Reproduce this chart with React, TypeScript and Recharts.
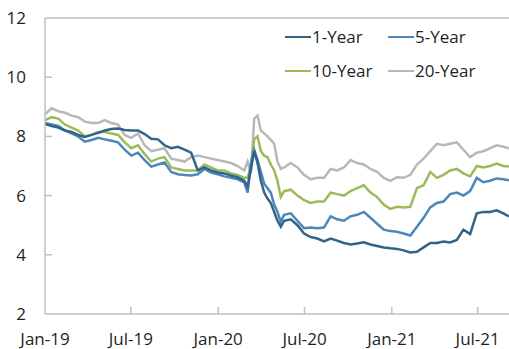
import React from 'react';
import { LineChart, Line, XAxis, YAxis, ReferenceLine, Legend } from 'recharts';

const dates = [
  '2019-01-01','2019-01-15','2019-01-29','2019-02-12','2019-02-26','2019-03-12','2019-03-26','2019-04-09','2019-04-23','2019-05-07',
  '2019-05-21','2019-06-04','2019-06-18','2019-07-02','2019-07-16','2019-07-30','2019-08-13','2019-08-27','2019-09-10','2019-09-24',
  '2019-10-08','2019-10-22','2019-11-05','2019-11-19','2019-12-03','2019-12-17','2019-12-31','2020-01-14','2020-01-28','2020-02-11',
  '2020-02-25','2020-03-03','2020-03-10','2020-03-17','2020-03-24','2020-03-31','2020-04-07','2020-04-14','2020-04-21','2020-04-28',
  '2020-05-05','2020-05-12','2020-05-19','2020-06-02','2020-06-16','2020-06-30','2020-07-14','2020-07-28','2020-08-11','2020-08-25',
  '2020-09-08','2020-09-22','2020-10-06','2020-10-20','2020-11-03','2020-11-17','2020-12-01','2020-12-15','2020-12-29','2021-01-12',
  '2021-01-26','2021-02-09','2021-02-23','2021-03-09','2021-03-23','2021-04-06','2021-04-20','2021-05-04','2021-05-18','2021-06-01',
  '2021-06-15','2021-06-29','2021-07-13','2021-07-27','2021-08-10','2021-08-24','2021-09-05',
];

const oneYear = [
  8.42,8.35,8.3,8.2,8.15,8.05,7.98,8.05,8.12,8.2,
  8.25,8.27,8.22,8.2,8.2,8.08,7.92,7.9,7.7,7.6,
  7.65,7.55,7.45,6.85,6.95,6.85,6.78,6.75,6.68,6.62,
  6.5,6.3,6.9,7.5,7.1,6.5,6.1,5.9,5.75,5.45,
  5.15,4.95,5.15,5.2,5.0,4.72,4.6,4.55,4.45,4.55,
  4.48,4.4,4.35,4.38,4.42,4.35,4.3,4.25,4.22,4.2,
  4.15,4.08,4.1,4.25,4.4,4.4,4.45,4.42,4.5,4.85,
  4.7,5.4,5.45,5.45,5.5,5.4,5.3,
];

const fiveYear = [
  8.45,8.4,8.35,8.2,8.1,8.0,7.82,7.88,7.95,7.9,
  7.85,7.8,7.55,7.35,7.45,7.2,6.98,7.05,7.12,6.8,
  6.72,6.7,6.68,6.72,6.9,6.78,6.72,6.65,6.6,6.55,
  6.45,6.1,7.1,7.55,7.2,6.8,6.4,6.25,6.1,5.7,
  5.45,5.12,5.35,5.4,5.15,4.9,4.92,4.9,4.92,5.3,
  5.2,5.15,5.3,5.35,5.45,5.25,5.05,4.85,4.8,4.78,
  4.72,4.65,4.95,5.25,5.6,5.75,5.8,6.05,6.1,6.0,
  6.15,6.6,6.45,6.5,6.58,6.55,6.52,
];

const tenYear = [
  8.55,8.65,8.6,8.4,8.3,8.2,8.0,8.05,8.15,8.15,
  8.1,8.05,7.8,7.6,7.7,7.4,7.15,7.25,7.3,6.95,
  6.9,6.85,6.85,6.85,7.05,6.95,6.85,6.85,6.75,6.7,
  6.6,6.6,7.0,7.9,8.0,7.5,7.35,7.3,7.05,6.85,
  6.5,5.95,6.15,6.2,6.0,5.85,5.75,5.8,5.8,6.1,
  6.05,6.0,6.15,6.25,6.35,6.1,5.95,5.7,5.55,5.62,
  5.6,5.62,6.25,6.35,6.8,6.6,6.7,6.85,6.9,6.75,
  6.65,7.0,6.95,7.0,7.08,7.0,6.98,
];

const twentyYear = [
  8.75,8.95,8.85,8.8,8.7,8.65,8.5,8.45,8.45,8.55,
  8.45,8.4,8.05,7.95,8.1,7.7,7.5,7.55,7.6,7.25,
  7.2,7.15,7.3,7.35,7.3,7.25,7.2,7.15,7.1,7.0,
  6.85,7.15,6.75,8.6,8.7,8.2,8.1,8.0,7.88,7.75,
  7.15,6.9,6.95,7.1,6.95,6.7,6.55,6.6,6.6,6.9,
  6.85,6.95,7.2,7.1,7.05,6.9,6.8,6.6,6.5,6.62,
  6.6,6.7,7.05,7.25,7.5,7.75,7.7,7.75,7.8,7.55,
  7.3,7.45,7.5,7.6,7.7,7.65,7.6,
];

const xTickDates = ['2019-01-01', '2019-07-01', '2020-01-01', '2020-07-01', '2021-01-01', '2021-07-01'];
const xTickLabels = ['Jan-19', 'Jul-19', 'Jan-20', 'Jul-20', 'Jan-21', 'Jul-21'];
const yTicks = [2, 4, 6, 8, 10, 12];

const seriesNames = ['1-Year', '5-Year', '10-Year', '20-Year'];
const seriesKeys = ['y1', 'y5', 'y10', 'y20'];
const seriesColors = ['#326487', '#4b87bb', '#9bbb59', '#b8b8b8'];

const toTime = (d: string) => Date.parse(d + 'T00:00:00Z');

const data = dates.map((d, i) => ({
  t: toTime(d),
  y1: oneYear[i],
  y5: fiveYear[i],
  y10: tenYear[i],
  y20: twentyYear[i],
}));

const xTicks = xTickDates.map(toTime);
const labelFor: Record<number, string> = {};
xTicks.forEach((t, i) => { labelFor[t] = xTickLabels[i]; });

const FONT = '"Open Sans", "DejaVu Sans", sans-serif';
const AXIS = '#bfbfbf';

const YTick = (props: any) => {
  const { x, y, payload } = props;
  return (
    <g>
      {payload.value !== 2 && payload.value !== 12 ? (
        <line x1={x} x2={x + 7} y1={y} y2={y} stroke={AXIS} strokeWidth={1.5} />
      ) : null}
      <text x={26} y={y} dy={6} textAnchor="end" fontSize={17} fill="#1f1f1f" fontFamily={FONT}>
        {payload.value}
      </text>
    </g>
  );
};

const XTick = (props: any) => {
  const { x, y, payload } = props;
  const isFirst = payload.value === xTicks[0];
  return (
    <g>
      {!isFirst ? (
        <line x1={x} x2={x} y1={y} y2={y - 7} stroke={AXIS} strokeWidth={1.5} />
      ) : null}
      <text x={x} y={y + 31} textAnchor="middle" fontSize={17} fill="#1f1f1f" fontFamily={FONT}>
        {labelFor[payload.value]}
      </text>
    </g>
  );
};

const LegendContent = () => {
  return (
    <div style={{ position: 'relative', width: 220, height: 70, fontFamily: FONT, fontSize: 17, color: '#1f1f1f' }}>
      {seriesNames.map((name, i) => {
        const col = i % 2;
        const row = Math.floor(i / 2);
        return (
          <div
            key={name}
            style={{ position: 'absolute', left: col * 103, top: row * 34, display: 'flex', alignItems: 'center', whiteSpace: 'nowrap', lineHeight: '24px' }}
          >
            <span style={{ display: 'inline-block', width: 26, height: 2.5, background: seriesColors[i], marginRight: 1 }} />
            <span>{name}</span>
          </div>
        );
      })}
    </div>
  );
};

export default function App() {
  return (
    <div style={{ position: 'absolute', left: 0, top: 0, width: 509, height: 349, background: '#fff' }}>
      <LineChart width={509} height={349} data={data} margin={{ top: 18, right: 0, bottom: 0, left: 0 }}>
        <XAxis
          dataKey="t"
          type="number"
          scale="time"
          domain={[toTime('2019-01-01'), toTime('2021-09-05')]}
          ticks={xTicks}
          interval={0}
          tick={<XTick />}
          tickSize={0}
          tickMargin={0}
          height={35}
          axisLine={{ stroke: AXIS, strokeWidth: 1.5 }}
          tickLine={false}
          allowDataOverflow
        />
        <YAxis
          domain={[2, 12]}
          ticks={yTicks}
          tick={<YTick />}
          tickSize={0}
          tickMargin={0}
          width={45}
          axisLine={{ stroke: AXIS, strokeWidth: 1.5 }}
          tickLine={false}
          interval={0}
        />
        <ReferenceLine y={12} stroke={AXIS} strokeWidth={1.5} />
        {seriesKeys.map((k, i) => (
          <Line
            key={k}
            dataKey={k}
            name={seriesNames[i]}
            stroke={seriesColors[i]}
            strokeWidth={2.5}
            dot={false}
            type="linear"
            isAnimationActive={false}
          />
        )).reverse()}
        <Legend
          layout="vertical"
          align="center"
          verticalAlign="middle"
          content={<LegendContent />}
          wrapperStyle={{ left: 285, top: 25, width: 220, height: 70 }}
        />
      </LineChart>
    </div>
  );
}
